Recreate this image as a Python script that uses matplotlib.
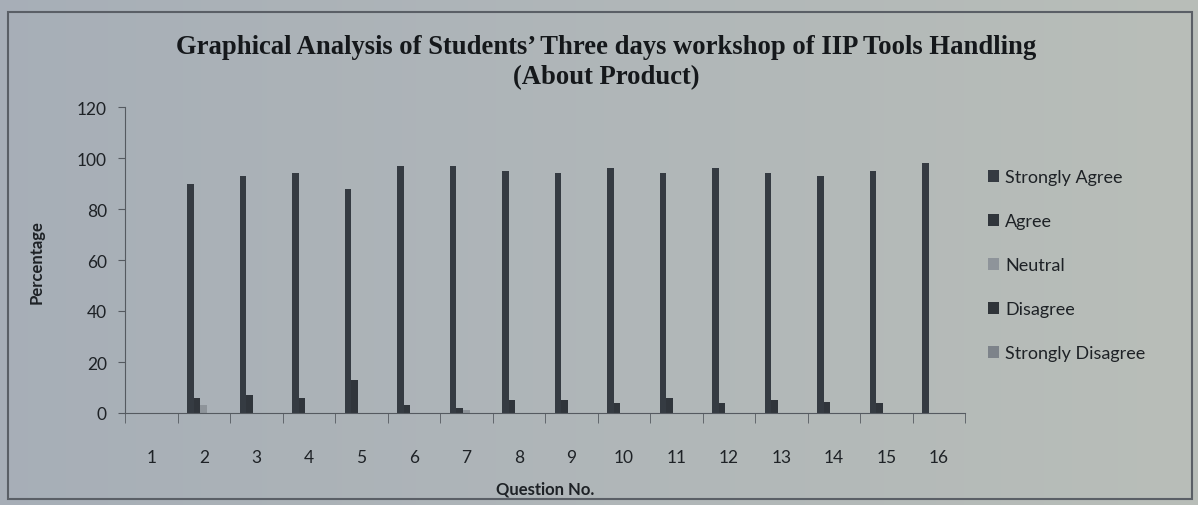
import numpy as np
import matplotlib
matplotlib.use("Agg")
import matplotlib.pyplot as plt
from matplotlib.patches import Rectangle

questions = [str(i) for i in range(1, 17)]
strongly_agree = [0, 90, 93, 94, 88, 97, 97, 95, 94, 96, 94, 96, 94, 93, 95, 98]
agree = [0, 6, 7, 6, 13, 3, 2, 5, 5, 4, 6, 4, 5, 4.5, 4, 0]
neutral = [0, 3, 0, 0, 0, 0, 1, 0, 0, 0, 0, 0, 0, 0, 0, 0]
disagree = [0] * 16
strongly_disagree = [0] * 16
series_names = ["Strongly Agree", "Agree", "Neutral", "Disagree", "Strongly Disagree"]
series_values = [strongly_agree, agree, neutral, disagree, strongly_disagree]
series_colors = ["#353b42", "#30353b", "#8e949a", "#2f3439", "#7d838a"]
yticks = [0, 20, 40, 60, 80, 100, 120]

W, H = 1198, 506
fig = plt.figure(figsize=(W / 100, H / 100), dpi=100)
fig.patch.set_facecolor("#b3b8bd")

# photographic background gradient
bg = fig.add_axes([0, 0, 1, 1], zorder=-10)
grad = np.linspace(0, 1, 256)
rgb_left = np.array([0.655, 0.685, 0.720])
rgb_right = np.array([0.725, 0.745, 0.725])
img = rgb_left[None, :] * (1 - grad[:, None]) + rgb_right[None, :] * grad[:, None]
bg.imshow(img[None, :, :], aspect="auto", extent=[0, 1, 0, 1])
bg.set_xlim(0, 1); bg.set_ylim(0, 1)
bg.axis("off")
bg.add_patch(Rectangle((8 / W, 6 / H), (W - 14) / W, (H - 19) / H,
                       fill=False, edgecolor="#5a5f66", lw=1.5))

ax = fig.add_axes([125 / W, 1 - 414 / H, 840 / W, 306 / H])
ax.set_facecolor("none")

x = np.arange(len(questions))
bw = 0.125
for i, (name, vals, col) in enumerate(zip(series_names, series_values, series_colors)):
    ax.bar(x + (i - 2) * bw, vals, width=bw, color=col, label=name)

ax.set_xlim(-0.5, len(questions) - 0.5)
ax.set_ylim(0, 120)
ax.set_yticks(yticks)
ax.set_xticks(x)
ax.set_xticklabels(questions)
ax.set_xticks(np.arange(-0.5, len(questions), 1), minor=True)
ax.tick_params(axis="x", which="major", length=0, pad=26, labelsize=12.5, colors="#1e2226")
ax.tick_params(axis="x", which="minor", length=7, color="#555a60")
ax.tick_params(axis="y", length=5, color="#555a60", labelsize=12.5, colors="#1e2226", pad=8)
for lab in ax.get_xticklabels() + ax.get_yticklabels():
    lab.set_fontfamily("Lato")
for s in ["top", "right"]:
    ax.spines[s].set_visible(False)
for s in ["left", "bottom"]:
    ax.spines[s].set_color("#555a60")

ax.set_xlabel("Question No.", fontfamily="Lato", fontweight="bold", fontsize=12, color="#1e2226", labelpad=11)
fig.text(37 / W, 1 - 262 / H, "Percentage", rotation=90, ha="center", va="center",
         fontfamily="Lato", fontweight="bold", fontsize=12, color="#1e2226")

fig.text(606 / W, 1 - 47 / H, "Graphical Analysis of Students\u2019 Three days workshop of IIP Tools Handling",
         ha="center", va="center", fontfamily="Liberation Serif", fontweight="bold", fontsize=19.2, color="#15181b")
fig.text(606 / W, 1 - 78 / H, "(About Product)", ha="center", va="center",
         fontfamily="Liberation Serif", fontweight="bold", fontsize=19.2, color="#15181b")

leg = fig.legend(loc="upper left", bbox_to_anchor=(972 / W, 1 - 154 / H), frameon=False,
                 prop={"family": "Lato", "size": 13}, labelspacing=1.55,
                 handlelength=0.6, handleheight=0.6, handletextpad=0.35)
for t in leg.get_texts():
    t.set_color("#1e2226")

fig.savefig("out.png", dpi=100, facecolor=fig.get_facecolor())
